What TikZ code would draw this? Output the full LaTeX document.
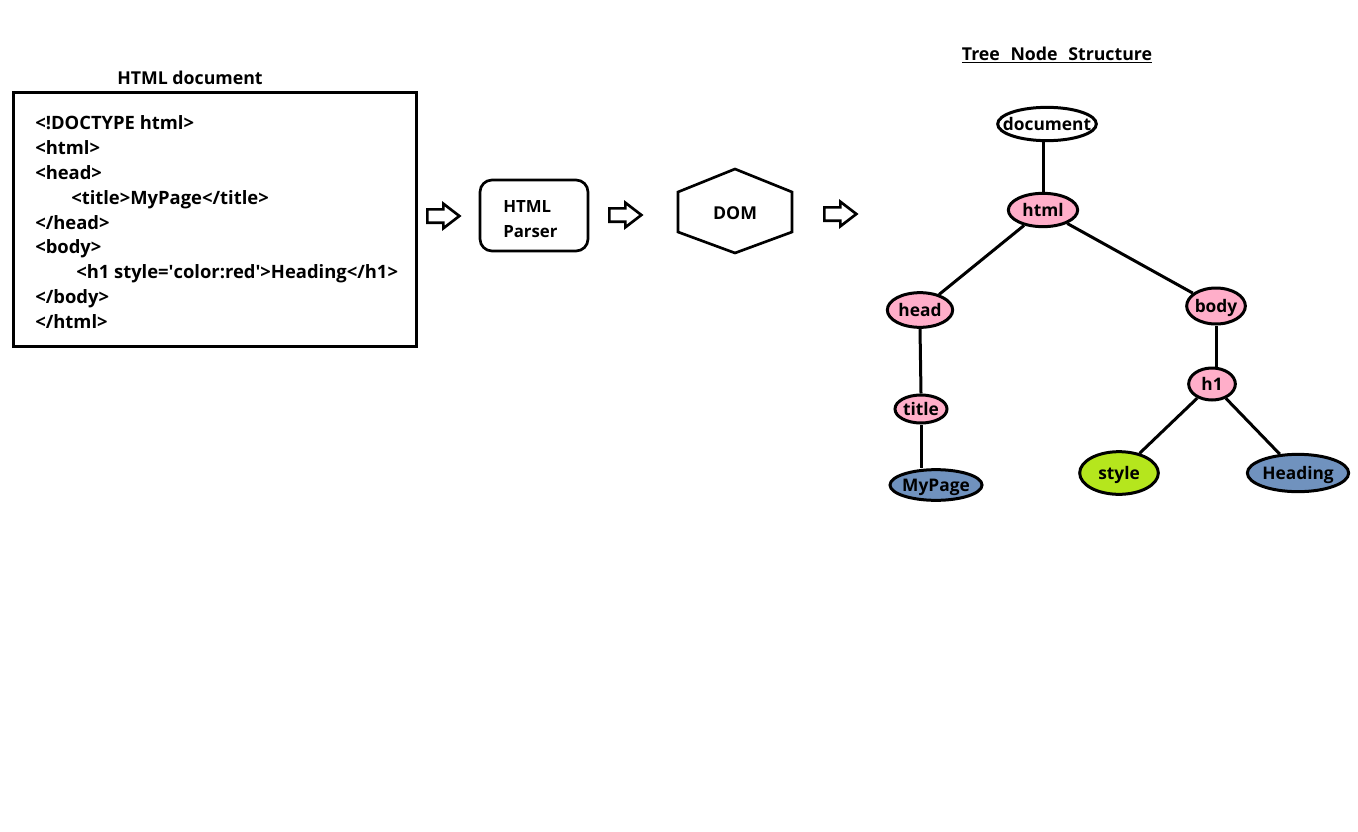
\documentclass[tikz,border=0pt]{standalone}
\usepackage{fontspec}
\setmainfont{Open Sans}[BoldFont={* Bold}]
\usetikzlibrary{shapes.geometric,shapes.arrows}
\definecolor{pinkn}{HTML}{FFAEC9}
\definecolor{bluen}{HTML}{7092BE}
\definecolor{limen}{HTML}{B5E61D}
\newcommand{\tnlabel}[1]{\makebox[0pt]{\smash{\raisebox{-0.36em}{#1}}}}
\tikzset{
  codeline/.style={anchor=base west,inner sep=0pt,font=\bfseries\fontsize{13.8}{16}\selectfont},
  parsertext/.style={anchor=base west,inner sep=0pt,font=\bfseries\fontsize{12.6}{15}\selectfont},
  lbl/.style={inner sep=0pt,font=\bfseries\fontsize{13.3}{15}\selectfont},
  blockarrow/.style={single arrow,draw,line width=2pt,inner sep=0pt,text height=0pt,text depth=0pt,
     minimum width=18pt,single arrow head extend=4.2pt,minimum height=24pt,single arrow tip angle=75,inner ysep=4pt},
  tnode/.style={ellipse,draw,line width=2.25pt,inner sep=0pt,font=\bfseries\fontsize{13}{15}\selectfont},
  edge/.style={line width=2.25pt},
}
\begin{document}
\begin{tikzpicture}[x=0.75pt,y=-0.75pt]
\useasboundingbox (0,0) rectangle (1358,831);
% HTML document
\node[lbl] (doclabel) at (190,78) {HTML document};
\draw[line width=2.25pt] (13,93) rectangle (416,346);
\node[codeline] (l1) at (35,130) {<!DOCTYPE html>};
\node[codeline] (l2) at (35,154) {<html>};
\node[codeline] (l3) at (35,179) {<head>};
\node[codeline] (l4) at (71,204) {<title>MyPage</title>};
\node[codeline] (l5) at (35,229) {</head>};
\node[codeline] (l6) at (35,253) {<body>};
\node[codeline] (l7) at (76,278) {<h1 style=\textquotesingle color:red\textquotesingle>Heading</h1>};
\node[codeline] (l8) at (35,303) {</body>};
\node[codeline] (l9) at (35,328) {</html>};
% arrows
\node[blockarrow] (a1) at (439,216) {};
\node[blockarrow] (a2) at (621,215) {};
\node[blockarrow] (a3) at (836,214) {};
% parser
\draw[line width=2pt,rounded corners=9pt] (480,180) rectangle (588,251);
\node[parsertext] (p1) at (503,212) {HTML};
\node[parsertext] (p2) at (503,237) {Parser};
% DOM hexagon
\draw[line width=2pt] (735,169) -- (792,192) -- (792,232) -- (735,253) -- (678,232) -- (678,192) -- cycle;
\node[lbl] (dom) at (735,213) {DOM};
% tree
\node[lbl] (ttl) at (1057,55) {\underline{Tree\hspace{0.6em}Node\hspace{0.6em}Structure}};
\node[tnode,fill=white,minimum width=74pt,minimum height=25pt] (document) at (1047,124) {\tnlabel{document}};
\node[tnode,fill=pinkn,minimum width=52pt,minimum height=25pt] (html) at (1043,210) {\tnlabel{html}};
\node[tnode,fill=pinkn,minimum width=49pt,minimum height=26pt] (head) at (920,310) {\tnlabel{head}};
\node[tnode,fill=pinkn,minimum width=44pt,minimum height=27pt] (body) at (1216,306) {\tnlabel{body}};
\node[tnode,fill=pinkn,minimum width=35pt,minimum height=24pt] (h1) at (1212,384) {\tnlabel{h1}};
\node[tnode,fill=pinkn,minimum width=39pt,minimum height=21pt] (title) at (921,409) {\tnlabel{title}};
\node[tnode,fill=bluen,minimum width=69pt,minimum height=23pt] (mypage) at (936,485) {\tnlabel{MyPage}};
\node[tnode,fill=limen,minimum width=59pt,minimum height=32pt] (style) at (1119,473) {\tnlabel{style}};
\node[tnode,fill=bluen,minimum width=76pt,minimum height=28pt] (heading) at (1298,473) {\tnlabel{Heading}};
\draw[edge] (html.north |- document.south) -- (html.north);
\draw[edge] (html) -- (head);
\draw[edge] (html) -- (body);
\draw[edge] (head.south) -- (title.north);
\draw[edge] (title.south) -- (mypage.north -| title.south);
\draw[edge] (body.south) -- (h1.north -| body.south);
\draw[edge] (h1) -- (style);
\draw[edge] (h1) -- (heading);
\end{tikzpicture}
\end{document}
